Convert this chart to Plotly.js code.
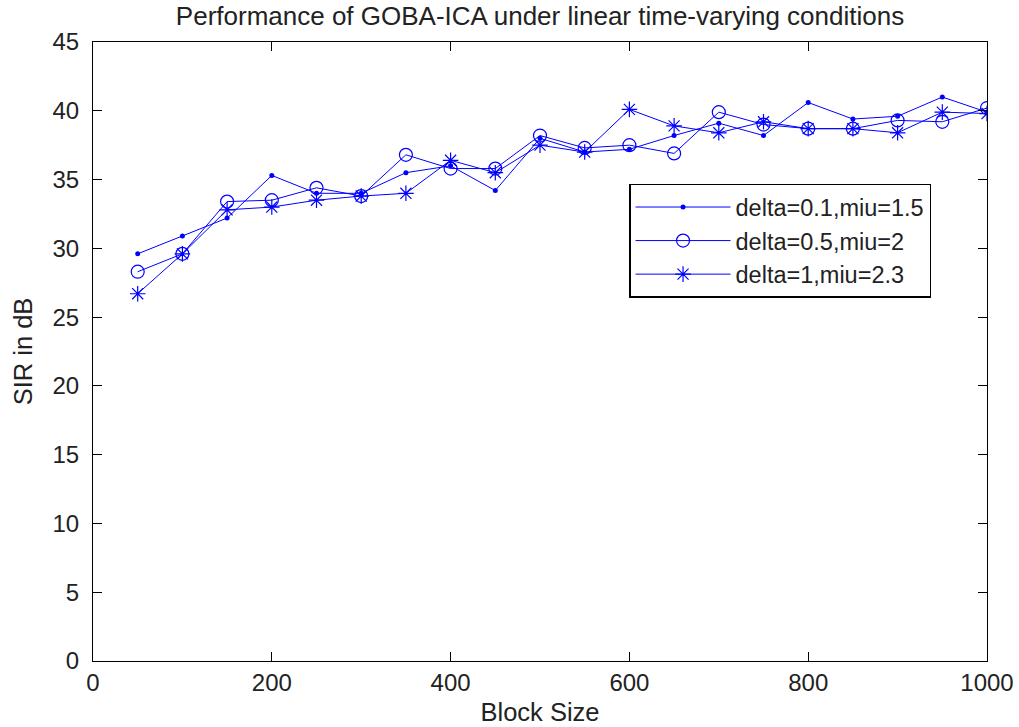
<!DOCTYPE html>
<html>
<head>
<meta charset="utf-8">
<script src="https://cdn.plot.ly/plotly-3.0.1.min.js"></script>
<style>
html,body{margin:0;padding:0;background:#fff;}
#chart{width:1019px;height:727px;}
</style>
</head>
<body>
<div id="chart"></div>
<script>
var blockSize = [50,100,150,200,250,300,350,400,450,500,550,600,650,700,750,800,850,900,950,1000];
var sir_d01 = [29.6,30.9,32.2,35.3,34.0,34.0,35.5,36.0,34.2,38.0,37.0,37.2,38.2,39.1,38.2,40.6,39.4,39.6,41.0,39.9];
var sir_d05 = [28.3,29.6,33.4,33.5,34.4,33.8,36.8,35.8,35.8,38.2,37.3,37.5,36.9,39.9,39.0,38.7,38.7,39.3,39.2,40.2];
var sir_d1  = [26.7,29.6,32.8,33.0,33.5,33.8,34.0,36.4,35.5,37.5,37.0,40.1,38.9,38.4,39.2,38.7,38.7,38.4,39.9,39.8];
var seriesNames = ['delta=0.1,miu=1.5','delta=0.5,miu=2','delta=1,miu=2.3'];
var xTicks = [0,200,400,600,800,1000];
var yTicks = [0,5,10,15,20,25,30,35,40,45];

var blue = '#0000ff';
var font = 'Liberation Sans, Arial, sans-serif';
var txt = '#222';
var traces = [
  {x: blockSize, y: sir_d01, name: seriesNames[0], mode: 'lines+markers',
   line: {color: blue, width: 1}, marker: {symbol: 'circle', size: 5, color: blue}},
  {x: blockSize, y: sir_d05, name: seriesNames[1], mode: 'lines+markers',
   line: {color: blue, width: 1}, marker: {symbol: 'circle-open', size: 13, color: blue, line: {width: 1.2, color: blue}}},
  {x: blockSize, y: sir_d1, name: seriesNames[2], mode: 'lines+markers',
   line: {color: blue, width: 1}, marker: {symbol: 'asterisk-open', size: 13, color: blue, line: {width: 1.2, color: blue}}}
];
var layout = {
  width: 1019, height: 727,
  margin: {l: 93, r: 32, t: 42, b: 66},
  paper_bgcolor: '#fff', plot_bgcolor: '#fff',
  font: {family: font, color: txt, size: 24},
  title: {text: 'Performance of GOBA-ICA under linear time-varying conditions', font: {family: font, size: 26, color: txt}, x: 0.5, xref: 'paper', xanchor: 'center', y: 0.99, yanchor: 'top'},
  xaxis: {range: [0, 1000], tickvals: xTicks, ticktext: xTicks.map(String), ticks: 'inside', ticklen: 9, tickcolor: '#000',
          showline: true, linecolor: '#000', linewidth: 1, mirror: 'ticks', showgrid: false, zeroline: false,
          title: {text: 'Block Size', font: {family: font, size: 25.5, color: txt}, standoff: 8}, tickfont: {size: 24}},
  yaxis: {range: [0, 45], tickvals: yTicks, ticktext: yTicks.map(String), ticks: 'inside', ticklen: 9, tickcolor: '#000',
          showline: true, linecolor: '#000', linewidth: 1, mirror: 'ticks', showgrid: false, zeroline: false,
          ticklabelstandoff: 8,
          title: {text: 'SIR in dB', font: {family: font, size: 25.5, color: txt}, standoff: 12}, tickfont: {size: 24}},
  legend: {x: 0.5996, y: 0.771, xanchor: 'left', yanchor: 'top', bgcolor: '#fff', bordercolor: '#000', borderwidth: 1.5,
           font: {family: font, size: 23.5, color: txt}, tracegroupgap: 0, itemwidth: 95,
           entrywidth: 335, entrywidthmode: 'pixels'},
  showlegend: true
};
Plotly.newPlot('chart', traces, layout, {displayModeBar: false});
</script>
</body>
</html>
